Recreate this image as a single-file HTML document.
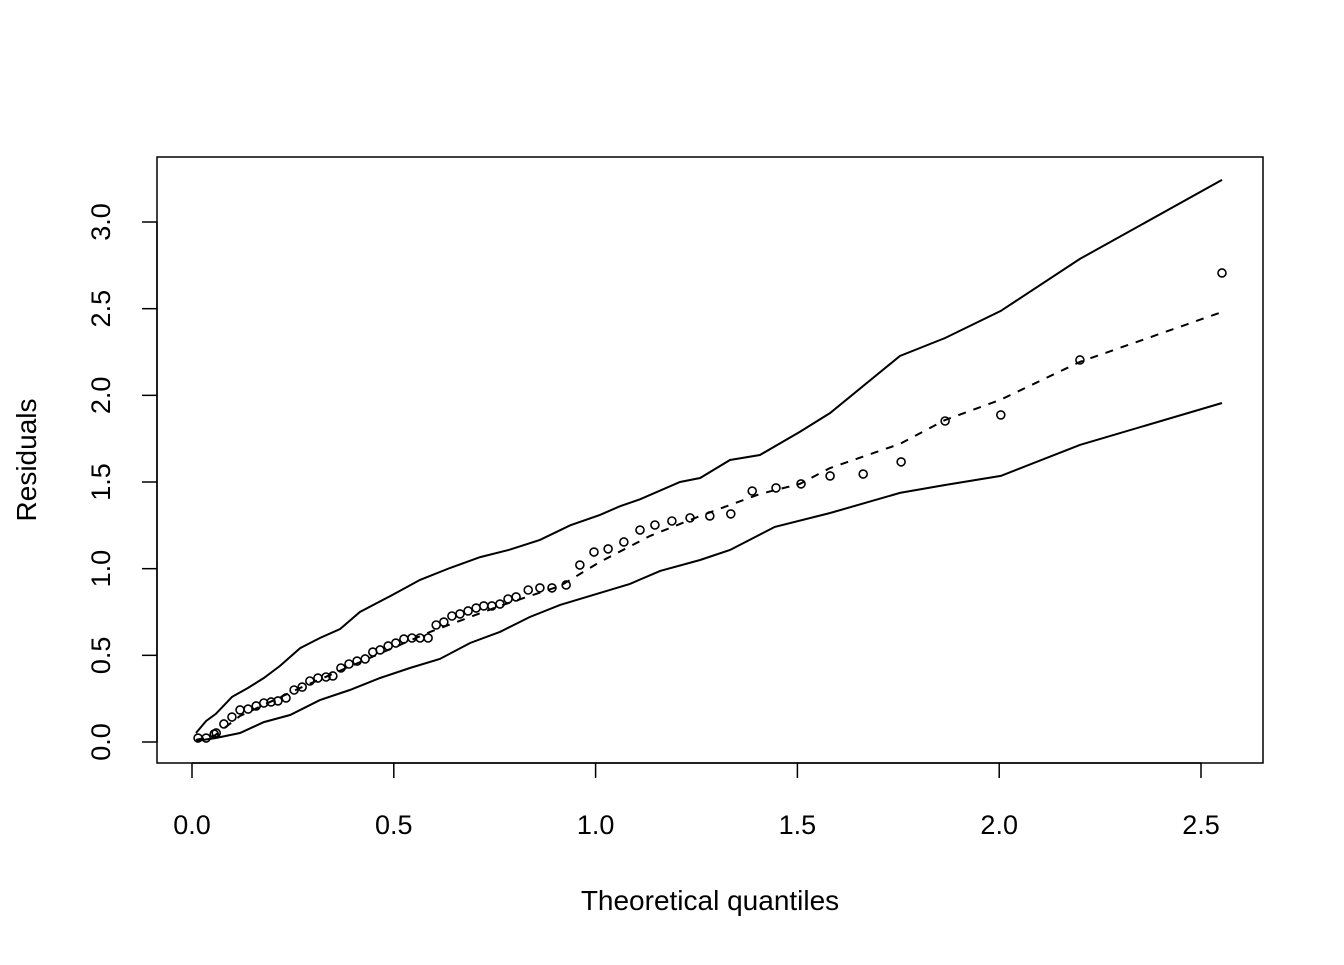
<!DOCTYPE html>
<html><head><meta charset="utf-8"><style>
html,body{margin:0;padding:0;background:#fff}
svg text{font-family:"Liberation Sans",sans-serif;fill:#000}
</style></head><body>
<svg id="chart" width="1344" height="960" xmlns="http://www.w3.org/2000/svg"></svg>
<script>
const xTicks=[0,0.5,1,1.5,2,2.5];
const xTickLabels=["0.0","0.5","1.0","1.5","2.0","2.5"];
const yTicks=[0,0.5,1,1.5,2,2.5,3];
const yTickLabels=["0.0","0.5","1.0","1.5","2.0","2.5","3.0"];
const pointX=[0.015,0.035,0.055,0.06,0.079,0.099,0.119,0.139,0.159,0.178,0.196,0.213,0.233,0.253,0.273,0.292,0.312,0.332,0.349,0.369,0.389,0.409,0.429,0.448,0.466,0.486,0.505,0.525,0.545,0.565,0.585,0.605,0.624,0.644,0.664,0.684,0.704,0.723,0.743,0.763,0.783,0.803,0.833,0.862,0.892,0.927,0.961,0.996,1.031,1.070,1.110,1.147,1.189,1.234,1.283,1.335,1.388,1.447,1.509,1.581,1.663,1.757,1.866,2.004,2.200,2.552];
const pointY=[0.023,0.023,0.046,0.052,0.104,0.144,0.185,0.19,0.208,0.225,0.231,0.237,0.254,0.30,0.317,0.352,0.369,0.375,0.381,0.427,0.45,0.467,0.479,0.519,0.531,0.554,0.571,0.594,0.60,0.60,0.60,0.675,0.692,0.727,0.739,0.756,0.773,0.785,0.785,0.796,0.825,0.837,0.877,0.889,0.889,0.906,1.021,1.096,1.114,1.154,1.223,1.252,1.275,1.293,1.304,1.316,1.448,1.466,1.489,1.535,1.546,1.616,1.852,1.887,2.204,2.706];
const medX=[0.01,0.055,0.119,0.268,0.515,0.59,0.763,0.912,1.011,1.135,1.259,1.407,1.506,1.581,1.754,1.866,2.002,2.2,2.552];
const medY=[0.012,0.035,0.15,0.312,0.56,0.635,0.785,0.9,1.039,1.189,1.304,1.431,1.489,1.581,1.72,1.858,1.973,2.193,2.481];
const upX=[0.01,0.035,0.059,0.099,0.139,0.178,0.218,0.268,0.317,0.367,0.416,0.491,0.565,0.639,0.714,0.788,0.862,0.937,1.011,1.06,1.11,1.209,1.259,1.333,1.407,1.506,1.581,1.754,1.866,2.004,2.2,2.552];
const upY=[0.052,0.121,0.162,0.26,0.312,0.369,0.439,0.542,0.6,0.652,0.75,0.842,0.935,1.004,1.067,1.11,1.166,1.25,1.31,1.36,1.40,1.5,1.523,1.627,1.656,1.789,1.898,2.227,2.331,2.487,2.787,3.243];
const loX=[0.01,0.059,0.119,0.178,0.243,0.317,0.391,0.466,0.54,0.614,0.689,0.763,0.837,0.912,1.011,1.085,1.16,1.259,1.333,1.444,1.581,1.754,1.866,2.004,2.2,2.552];
const loY=[0.006,0.023,0.052,0.115,0.156,0.242,0.3,0.369,0.427,0.479,0.571,0.635,0.721,0.791,0.86,0.912,0.987,1.05,1.108,1.241,1.321,1.437,1.483,1.535,1.714,1.956];

const NS="http://www.w3.org/2000/svg";
const svg=document.getElementById('chart');
const sx=v=>192+v*403.6;
const sy=v=>742-v*173.33;
function mk(tag,attrs,parent){const e=document.createElementNS(NS,tag);for(const k in attrs)e.setAttribute(k,attrs[k]);(parent||svg).appendChild(e);return e;}

const box=mk('rect',{x:157,y:157,width:1106,height:606,fill:'none',stroke:'#000','stroke-width':1.5});



const xa=mk('g',{});


mk('line',{x1:sx(xTicks[0]),x2:sx(xTicks[xTicks.length-1]),y1:763,y2:763,stroke:'#000','stroke-width':1.5},xa);
xTicks.forEach((t,i)=>{
  mk('line',{x1:sx(t),x2:sx(t),y1:763,y2:778,stroke:'#000','stroke-width':1.5},xa);
  const tx=mk('text',{x:sx(t),y:834,'font-size':27,'text-anchor':'middle'},xa);
  tx.textContent=xTickLabels[i];
  
  
});
const ya=mk('g',{});


mk('line',{x1:157,x2:157,y1:sy(yTicks[0]),y2:sy(yTicks[yTicks.length-1]),stroke:'#000','stroke-width':1.5},ya);
yTicks.forEach((t,i)=>{
  mk('line',{x1:142,x2:157,y1:sy(t),y2:sy(t),stroke:'#000','stroke-width':1.5},ya);
  const tx=mk('text',{x:0,y:0,'font-size':27,'text-anchor':'middle',transform:`translate(110,${sy(t)}) rotate(-90)`},ya);
  tx.textContent=yTickLabels[i];
  
  
});
const xt=mk('text',{x:710,y:910,'font-size':28,'text-anchor':'middle'});
xt.textContent='Theoretical quantiles';


const yt=mk('text',{x:0,y:0,'font-size':28,'text-anchor':'middle',transform:'translate(36,460) rotate(-90)'});
yt.textContent='Residuals';



function line(xs,ys,name,dash){
  const d=xs.map((x,i)=>(i?'L':'M')+sx(x).toFixed(1)+','+sy(ys[i]).toFixed(1)).join(' ');
  const p=mk('path',{d:d,fill:'none',stroke:'#000','stroke-width':2});
  if(dash)p.setAttribute('stroke-dasharray',dash);
  
  
}
line(upX,upY,'upper-envelope');
line(loX,loY,'lower-envelope');
line(medX,medY,'median-envelope','8,8');
const pts=mk('g',{});


pointX.forEach((x,i)=>{
  const c=mk('circle',{cx:sx(x),cy:sy(pointY[i]),r:4,fill:'none',stroke:'#000','stroke-width':1.6},pts);
  
  
});
</script>
</body></html>
